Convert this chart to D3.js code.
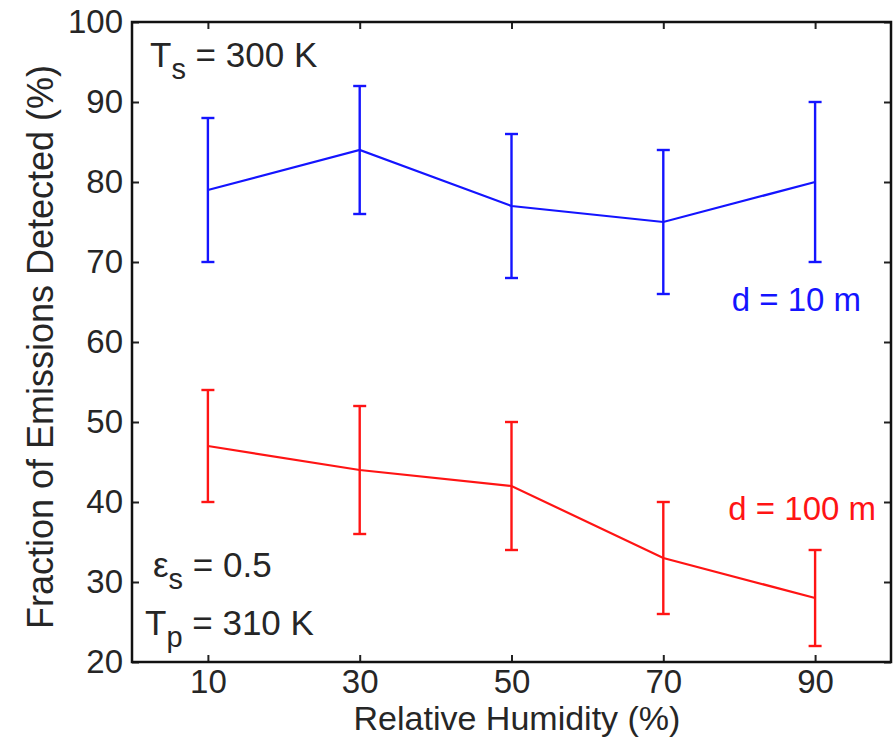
<!DOCTYPE html>
<html>
<head>
<meta charset="utf-8">
<script src="https://cdn.jsdelivr.net/npm/d3@7"></script>
<style>
  body { margin: 0; background: #fff; }
  text { font-family: "Liberation Sans", Arial, sans-serif; fill: #262626; }
</style>
</head>
<body>
<svg width="894" height="738"></svg>
<script>
// humidity levels (%)
const humidity = [10, 30, 50, 70, 90];
// d = 10 m
const near_mean = [79, 84, 77, 75, 80];
const near_low  = [70, 76, 68, 66, 70];
const near_high = [88, 92, 86, 84, 90];
// d = 100 m
const far_mean = [47, 44, 42, 33, 28];
const far_low  = [40, 36, 34, 26, 22];
const far_high = [54, 52, 50, 40, 34];

const xTicks = [10, 30, 50, 70, 90];
const yTicks = [20, 30, 40, 50, 60, 70, 80, 90, 100];

const svg = d3.select("svg");
const pL = 132, pR = 891, pT = 22, pB = 662;

const x = d3.scaleLinear().domain([0, 100]).range([pL, pR]);
const y = d3.scaleLinear().domain([20, 100]).range([pB, pT]);

const tick = 7;
const axes = svg.append("g");

// ticks pointing inwards on all four sides, matlab style
axes.append("g").attr("transform", `translate(0,${pB})`)
    .call(d3.axisBottom(x).tickValues(xTicks).tickSize(-tick).tickPadding(8))
    .call(g => g.select(".domain").remove());
axes.append("g").attr("transform", `translate(0,${pT})`)
    .call(d3.axisTop(x).tickValues(xTicks).tickSize(-tick).tickFormat(""))
    .call(g => g.select(".domain").remove());
axes.append("g").attr("transform", `translate(${pL},0)`)
    .call(d3.axisLeft(y).tickValues(yTicks).tickSize(-tick).tickPadding(9))
    .call(g => g.select(".domain").remove());
axes.append("g").attr("transform", `translate(${pR},0)`)
    .call(d3.axisRight(y).tickValues(yTicks).tickSize(-tick).tickFormat(""))
    .call(g => g.select(".domain").remove());

axes.selectAll(".tick line").attr("stroke", "#222").attr("stroke-width", 2);
axes.selectAll(".tick text")
    .style("font-family", "'Liberation Sans', Arial, sans-serif")
    .style("font-size", "33px")
    .attr("fill", "#262626");

svg.append("rect")
    .attr("x", pL).attr("y", pT)
    .attr("width", pR - pL).attr("height", pB - pT)
    .attr("fill", "none").attr("stroke", "#111").attr("stroke-width", 2.5);

function series(mean, low, high, color) {
    const g = svg.append("g");
    const pts = humidity.map((h, i) => ({h, m: mean[i], lo: low[i], hi: high[i]}));
    g.append("path")
        .datum(pts)
        .attr("fill", "none")
        .attr("stroke", color)
        .attr("stroke-width", 2.2)
        .attr("d", d3.line().x(d => x(d.h)).y(d => y(d.m)));
    const cap = 6.5;
    const bars = g.selectAll("g.err").data(pts).enter().append("g").classed("err", true);
    bars.append("line")
        .attr("x1", d => x(d.h)).attr("x2", d => x(d.h))
        .attr("y1", d => y(d.lo)).attr("y2", d => y(d.hi));
    bars.append("line")
        .attr("x1", d => x(d.h) - cap).attr("x2", d => x(d.h) + cap)
        .attr("y1", d => y(d.hi)).attr("y2", d => y(d.hi));
    bars.append("line")
        .attr("x1", d => x(d.h) - cap).attr("x2", d => x(d.h) + cap)
        .attr("y1", d => y(d.lo)).attr("y2", d => y(d.lo));
    bars.selectAll("line").attr("stroke", color).attr("stroke-width", 2.4);
}
series(near_mean, near_low, near_high, "#1414ff");
series(far_mean, far_low, far_high, "#ff1414");

// axis titles
svg.append("text")
    .attr("x", 517).attr("y", 730)
    .attr("text-anchor", "middle")
    .style("font-size", "34px")
    .text("Relative Humidity (%)");
svg.append("text")
    .attr("transform", `translate(53,347) rotate(-90)`)
    .attr("text-anchor", "middle")
    .style("font-size", "36px")
    .text("Fraction of Emissions Detected (%)");

// annotations
function label(px, py, main, sub, rest, color) {
    const t = svg.append("text").attr("x", px).attr("y", py)
        .style("font-size", "35px").style("fill", color || "#262626");
    t.append("tspan").text(main);
    if (sub) t.append("tspan").attr("dy", 12).style("font-size", "29px").text(sub);
    t.append("tspan").attr("dy", sub ? -12 : 0).text(rest);
}
label(150, 67, "T", "s", " = 300 K");
label(153, 577, "\u03b5", "s", " = 0.5");
label(145, 635, "T", "p", " = 310 K");
svg.append("text").attr("x", 861).attr("y", 311).attr("text-anchor", "end")
    .style("font-size", "33px").style("fill", "#1414ff").text("d = 10 m");
svg.append("text").attr("x", 876).attr("y", 520).attr("text-anchor", "end")
    .style("font-size", "33px").style("fill", "#ff1414").text("d = 100 m");
</script>
</body>
</html>
